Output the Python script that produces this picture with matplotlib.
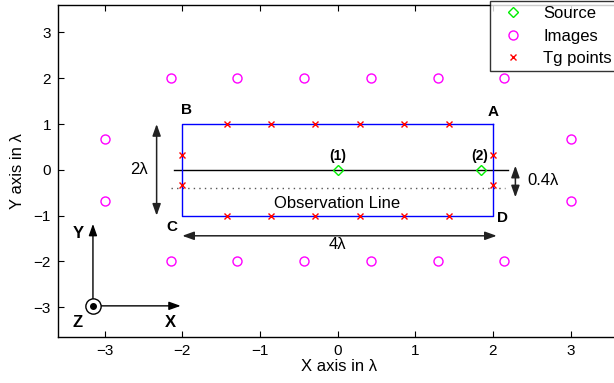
import matplotlib
matplotlib.use("Agg")
import matplotlib.pyplot as plt

plt.rcParams['font.family'] = ['Liberation Sans', 'DejaVu Sans']
plt.rcParams['mathtext.fontset'] = 'custom'
plt.rcParams['mathtext.rm'] = 'Liberation Sans'

# Source positions (in wavelengths)
source_x = [0.0, 1.85]
source_y = [0.0, 0.0]

# Image sources around the enclosure
image_x = [-2.14, -1.29, -0.43, 0.43, 1.29, 2.14,
           -2.14, -1.29, -0.43, 0.43, 1.29, 2.14,
           -3.0, -3.0, 3.0, 3.0]
image_y = [2.0, 2.0, 2.0, 2.0, 2.0, 2.0,
           -2.0, -2.0, -2.0, -2.0, -2.0, -2.0,
           0.67, -0.67, 0.67, -0.67]

# Testing (Tg) points on the enclosure boundary
tg_x = [-1.43, -0.86, -0.29, 0.29, 0.86, 1.43,
        -1.43, -0.86, -0.29, 0.29, 0.86, 1.43,
        -2.0, -2.0, 2.0, 2.0]
tg_y = [1.0, 1.0, 1.0, 1.0, 1.0, 1.0,
        -1.0, -1.0, -1.0, -1.0, -1.0, -1.0,
        0.33, -0.33, 0.33, -0.33]

# Enclosure corners A, B, C, D (closed loop)
rect_x = [2, -2, -2, 2, 2]
rect_y = [1, 1, -1, -1, 1]

x_ticks = [-3, -2, -1, 0, 1, 2, 3]
y_ticks = [-3, -2, -1, 0, 1, 2, 3]

fig = plt.figure(figsize=(6.14, 3.83), dpi=100)
ax = fig.add_axes([58 / 614, 46 / 383, 563 / 614, 332 / 383])
ax.set_xlim(-3.6, 3.65)
ax.set_ylim(-3.65, 3.6)

ax.plot(rect_x, rect_y, color='#0000ff', lw=1.0, zorder=2)
ax.plot([-2.1, 2.2], [0, 0], color='black', lw=1.0, zorder=1)
ax.plot([-2.15, 2.15], [-0.4, -0.4], color='#555555', lw=1.0,
        linestyle=(0, (1, 3)), zorder=1)

ax.plot(source_x, source_y, linestyle='none', marker='D', markersize=5.5,
        markerfacecolor='none', markeredgecolor='#00ee00', markeredgewidth=1.0,
        label='Source', zorder=4)
ax.plot(image_x, image_y, linestyle='none', marker='o', markersize=6.5,
        markerfacecolor='none', markeredgecolor='#ff00ff', markeredgewidth=1.0,
        label='Images', zorder=4)
ax.plot(tg_x, tg_y, linestyle='none', marker='x', markersize=4.5,
        color='#ff0000', markeredgewidth=1.0, label='Tg points', zorder=5)

# Corner and source labels
bold = dict(fontsize=11, fontweight='bold', ha='center', va='center')
ax.text(2.0, 1.27, 'A', **bold)
ax.text(-1.95, 1.30, 'B', **bold)
ax.text(-2.13, -1.24, 'C', **bold)
ax.text(2.12, -1.05, 'D', **bold)
bold_small = dict(fontsize=10, fontweight='bold', ha='center', va='center')
ax.text(0.0, 0.3, '(1)', **bold_small)
ax.text(1.83, 0.3, '(2)', **bold_small)

ax.text(0.0, -0.74, 'Observation Line', fontsize=12, ha='center', va='center')

# Dimension arrows
arrow_kw = dict(arrowstyle='<|-|>,head_length=0.7,head_width=0.25',
                color='#222222', lw=1.1, shrinkA=0, shrinkB=0)
ax.annotate('', xy=(-2.33, 1.0), xytext=(-2.33, -1.0), arrowprops=arrow_kw)
ax.text(-2.56, 0.0, '2λ', fontsize=12, ha='center', va='center')
ax.annotate('', xy=(-2.0, -1.44), xytext=(2.05, -1.44), arrowprops=arrow_kw)
ax.text(0.0, -1.64, '4λ', fontsize=12, ha='center', va='center')
ax.annotate('', xy=(2.29, 0.09), xytext=(2.29, -0.6), arrowprops=arrow_kw)
ax.text(2.64, -0.24, '0.4λ', fontsize=12, ha='center', va='center')

# Coordinate system symbol
ox, oy = -3.15, -2.97
ax_kw = dict(arrowstyle='-|>,head_length=0.7,head_width=0.25',
             color='black', lw=1.0, shrinkA=0, shrinkB=0)
ax.annotate('', xy=(ox, -1.18), xytext=(ox, oy), arrowprops=ax_kw)
ax.annotate('', xy=(-2.02, oy), xytext=(ox, oy), arrowprops=ax_kw)
ax.plot([ox], [oy], marker='o', markersize=11, markerfacecolor='white',
        markeredgecolor='black', markeredgewidth=1.0, zorder=6)
ax.plot([ox], [oy], marker='o', markersize=4, color='black', zorder=7)
ax.text(-3.34, -1.38, 'Y', fontsize=12, fontweight='bold', ha='center', va='center')
ax.text(-2.15, -3.33, 'X', fontsize=12, fontweight='bold', ha='center', va='center')
ax.text(-3.35, -3.33, 'Z', fontsize=12, fontweight='bold', ha='center', va='center')

ax.set_xticks(x_ticks)
ax.set_yticks(y_ticks)
ax.set_xticklabels([str(v).replace('-', '\u2212') for v in x_ticks])
ax.set_yticklabels([str(v).replace('-', '\u2212') for v in y_ticks])
ax.tick_params(direction='in', top=True, right=True, length=4, width=0.8,
               labelsize=11, pad=5)
for s in ax.spines.values():
    s.set_linewidth(1.0)

ax.set_xlabel('X axis in λ', fontsize=12, labelpad=1)
ax.set_ylabel('Y axis in λ', fontsize=12, labelpad=6)

leg = ax.legend(loc='upper left', bbox_to_anchor=(490 / 614, 1.0 - 1 / 383),
                bbox_transform=fig.transFigure, fontsize=12, frameon=True,
                fancybox=False, edgecolor='black', borderpad=0.3,
                labelspacing=0.45, handlelength=2.2, handletextpad=0.7,
                borderaxespad=0)
leg.get_frame().set_linewidth(1.0)
leg.set_zorder(10)

fig.savefig('out.png', dpi=100)
